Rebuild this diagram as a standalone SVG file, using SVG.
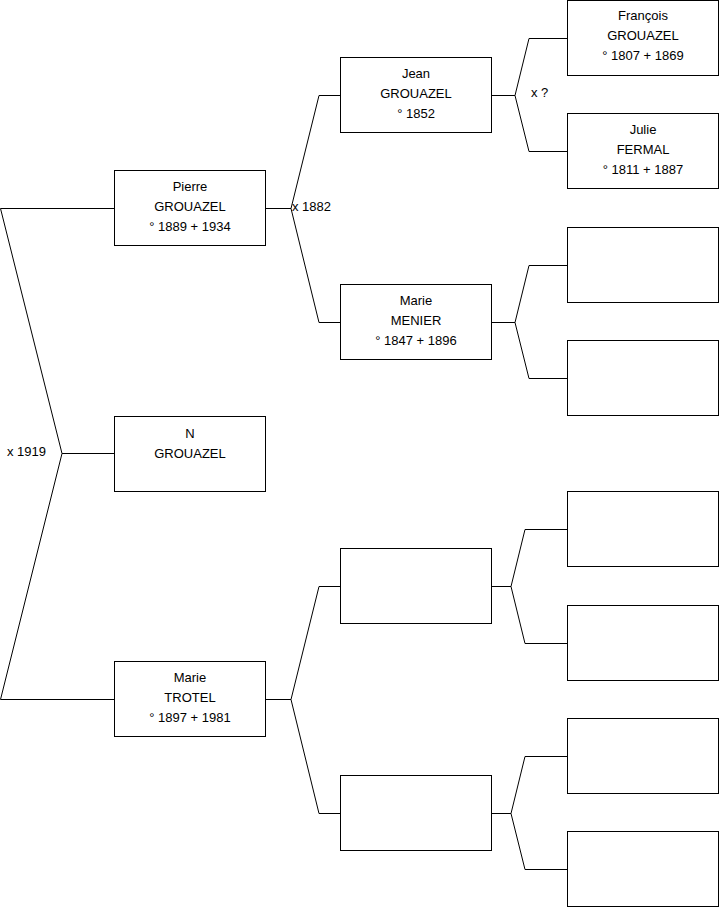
<svg xmlns="http://www.w3.org/2000/svg" width="719" height="908" viewBox="0 0 719 908">
<style>
.box{fill:#fff;stroke:#000;stroke-width:1}
.ln{fill:none;stroke:#000;stroke-width:1}
text{font-family:"Liberation Sans",Arial,sans-serif;font-size:13px;fill:#000}
.c{text-anchor:middle}
</style>
<rect width="719" height="908" fill="#fff"/>
<g id="connectors">
<path class="ln" d="M114,208.5 H0.5 L62,453.5 L0.5,699.5 H114 M62,453.5 H114"/>
<path class="ln" d="M265.5,208.5 H291 L319,95.5 H340.5 M291,208.5 L319,322.5 H340.5"/>
<path class="ln" d="M265.5,699.5 H291 L319,586.5 H340.5 M291,699.5 L319,813.5 H340.5"/>
<path class="ln" d="M491.5,95.5 H515 L529,38.5 H567.5 M515,95.5 L529,151.5 H567.5"/>
<path class="ln" d="M491.5,322.5 H515 L529,265.5 H567.5 M515,322.5 L529,378.5 H567.5"/>
<path class="ln" d="M491.5,586.5 H511 L525,529.5 H567.5 M511,586.5 L525,643.5 H567.5"/>
<path class="ln" d="M491.5,813.5 H511 L525,756.5 H567.5 M511,813.5 L525,869.5 H567.5"/>
<text x="292" y="211">x 1882</text>
<text x="531" y="97">x ?</text>
<text x="7" y="456">x 1919</text>
</g>
<g id="pierre">
<rect class="box" x="114.5" y="170.5" width="151" height="75"/>
<text class="c" x="190" y="191">Pierre</text>
<text class="c" x="190" y="211">GROUAZEL</text>
<text class="c" x="190" y="231">° 1889 + 1934</text>
</g>
<g id="n">
<rect class="box" x="114.5" y="416.5" width="151" height="75"/>
<text class="c" x="190" y="438">N</text>
<text class="c" x="190" y="458">GROUAZEL</text>
</g>
<g id="marie-trotel">
<rect class="box" x="114.5" y="661.5" width="151" height="75"/>
<text class="c" x="190" y="682">Marie</text>
<text class="c" x="190" y="702">TROTEL</text>
<text class="c" x="190" y="722">° 1897 + 1981</text>
</g>
<g id="jean">
<rect class="box" x="340.5" y="57.5" width="151" height="75"/>
<text class="c" x="416" y="78">Jean</text>
<text class="c" x="416" y="98">GROUAZEL</text>
<text class="c" x="416" y="118">° 1852</text>
</g>
<g id="marie-menier">
<rect class="box" x="340.5" y="284.5" width="151" height="75"/>
<text class="c" x="416" y="305">Marie</text>
<text class="c" x="416" y="325">MENIER</text>
<text class="c" x="416" y="345">° 1847 + 1896</text>
</g>
<g id="empty-2a"><rect class="box" x="340.5" y="548.5" width="151" height="75"/></g>
<g id="empty-2b"><rect class="box" x="340.5" y="775.5" width="151" height="75"/></g>
<g id="francois">
<rect class="box" x="567.5" y="0.5" width="151" height="75"/>
<text class="c" x="643" y="20">François</text>
<text class="c" x="643" y="40">GROUAZEL</text>
<text class="c" x="643" y="60">° 1807 + 1869</text>
</g>
<g id="julie">
<rect class="box" x="567.5" y="113.5" width="151" height="75"/>
<text class="c" x="643" y="134">Julie</text>
<text class="c" x="643" y="154">FERMAL</text>
<text class="c" x="643" y="174">° 1811 + 1887</text>
</g>
<g id="empty-3a"><rect class="box" x="567.5" y="227.5" width="151" height="75"/></g>
<g id="empty-3b"><rect class="box" x="567.5" y="340.5" width="151" height="75"/></g>
<g id="empty-3c"><rect class="box" x="567.5" y="491.5" width="151" height="75"/></g>
<g id="empty-3d"><rect class="box" x="567.5" y="605.5" width="151" height="75"/></g>
<g id="empty-3e"><rect class="box" x="567.5" y="718.5" width="151" height="75"/></g>
<g id="empty-3f"><rect class="box" x="567.5" y="831.5" width="151" height="75"/></g>
</svg>
